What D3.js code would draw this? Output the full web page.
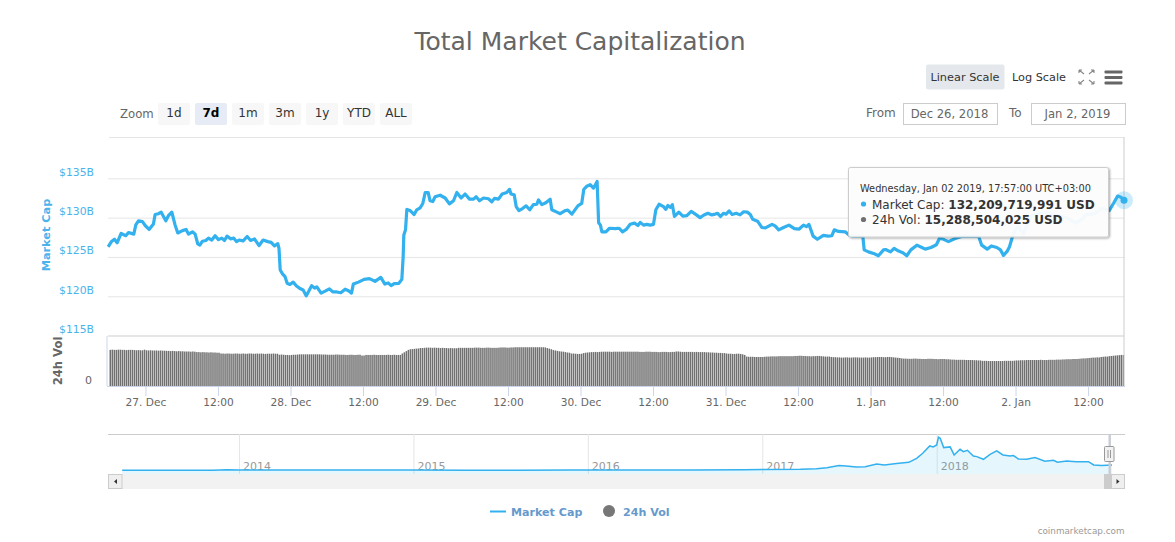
<!DOCTYPE html>
<html>
<head>
<meta charset="utf-8">
<title>Total Market Capitalization</title>
<script src="https://cdn.jsdelivr.net/npm/d3@7"></script>
<style>
  html, body { margin: 0; padding: 0; background: #fff; }
  svg { display: block; font-family: "DejaVu Sans", sans-serif; }
  .domain { display: none; }
</style>
</head>
<body>
<svg id="chart" width="1175" height="542"></svg>
<script>
// hours after 27 Dec 2018 00:00 UTC+3, and market cap in $B
var capHours = [-6.2,-6,-5.57,-5.13,-4.69,-4.03,-3.26,-2.81,-1.93,-1.6,-1.16,-0.5,-0.05,0.6,1.32,1.6,2.15,2.6,3.37,3.8,4.36,4.9,5.35,6.12,6.73,7.12,7.78,8.22,8.66,9,9.43,10,10.43,10.98,11.53,12.08,12.63,13.08,13.5,14.07,14.6,15.06,15.5,16.17,16.83,17.4,18.04,18.8,19.47,20.25,20.8,21.35,21.9,22.1,22.3,22.68,23.1,23.45,23.9,24.44,25,25.66,26.1,26.6,27,27.5,28,
  28.36,29.07,29.74,30.45,31,31.66,32.33,33.05,33.6,34.1,34.4,35.25,36.19,37.07,38,38.95,39.62,40.17,40.66,41.16,41.94,42.43,42.65,42.76,43.04,43.26,43.8,44.47,44.9,45.46,45.9,46.3,46.78,47.1,47.55,47.94,48.77,49.6,50.3,50.98,51.53,52.25,52.9,53.63,54.3,54.73,55.28,55.95,56.77,57.32,57.76,58.42,59.03,59.8,60.25,60.5,61.03,61.36,61.8,
  62.4,63,63.6,64.2,64.77,65.05,65.6,66.26,66.98,67.25,68.08,68.64,69.46,69.9,70.57,71.56,72.2,72.55,73.05,73.6,74.15,74.75,75,75.3,75.53,76.2,76.8,77.75,78.4,78.96,79.56,80.22,80.94,81.5,81.88,82.43,82.98,83.53,84.08,84.47,85,85.74,86.13,86.46,86.9,87.2,87.55,88.27,88.94,89.6,90.32,91,91.8,92.36,93.08,93.74,94.3,94.7,95.17,95.66,
  96.1,96.6,97.1,97.77,98.4,99,99.6,100.1,100.5,101.3,102,102.6,103.7,104.2,104.8,105.6,106.5,107.4,108.2,108.9,109.4,109.8,110.5,111.2,112.2,113,113.6,114,114.7,115.8,116.5,117.2,118,118.73,118.95,119.66,120.5,121.3,122.15,122.5,123.3,123.9,124.65,125.35,126,126.67,127.67,128.5,129.05,
  130,130.9,131.4,131.9,132.9,134,135.1,136.2,137.9,138.4,139.3,140,140.9,141.5,142,142.6,143,143.5,144.1,144.45,145.3,146.5,147.25,148.9,150.3,151.7,152.8,154,155,155.6,157.2,158.3,159.5,160.2,160.9,161.45,161.95];
var capValues = [126.3,126.5,127,127.25,126.8,128,127.7,128.1,127.9,129.07,129.6,129.5,129,128.5,129.2,130.4,130.5,130.7,129.6,130.25,130.7,129.07,128.05,128.35,128.5,127.9,128.2,127.9,126.65,126.5,127,127.1,127.4,127.15,127.7,127.2,127.4,127.1,127.65,127.3,127.4,126.95,127.15,127.05,127.6,127.1,127.3,126.45,127.15,126.95,126.85,126.4,126.7,126.1,123.35,122.85,122.5,121.65,121.5,121.8,121.3,120.95,120.8,120.05,120.6,121.35,121.05,
  121.2,120.4,120.65,120.95,120.55,120.55,120.45,120.9,120.7,120.4,121.55,121.8,122.15,122.25,121.9,122.4,121.55,121.7,121.35,121.6,121.65,122.15,125.05,127.8,128.45,131.05,130.9,130.4,131,131.25,131.8,133.2,133.2,132.15,132.05,132.65,132.85,132.5,131.75,132.15,133.2,132.5,133,132.35,132.35,132.65,132.15,132.5,132.4,132,132.45,132.35,133,133.2,133.6,133,132.9,131.4,130.9,
  131.15,131.5,131,131.65,131.7,132.25,131.65,131.9,132.35,131,130.7,130.5,130.9,130.95,130.45,131.5,131.8,133.6,134,134.2,133.75,134.6,129.35,129.05,128.2,128.2,128.65,128.6,128.65,128.2,128.5,129.15,129.3,129,129.4,129.05,129.15,129.05,129.15,131,131.7,131.4,131.05,131.55,131.3,131.65,130.15,130.7,130.2,130.25,130.8,130.45,130,130.3,130.55,130.35,130.45,130.55,130.15,130.55,
  130.45,130.85,130.4,130.55,130.35,130.75,130.7,130.4,129.8,129.55,128.75,128.7,129.15,128.95,128.45,128.75,129.05,128.6,128.55,129.05,128.85,129.15,127.65,127.25,127.75,127.65,127.7,128.45,128.25,128.2,127.75,127.65,127.65,127.6,125.9,125.65,125.45,125.15,125.9,125.95,125.65,126.1,125.75,125.55,125.15,125.9,126.5,126.2,126,
  126.2,126.55,127.35,127.3,126.95,127.35,127.6,127.65,127.6,126.5,126,126.4,126.2,125.9,125.2,125.7,126.3,127.6,128.65,128.85,127.9,130.15,130.4,130.65,130.35,130.15,129.85,129.3,129.8,130.35,130.55,131.2,130.9,131.8,132.75,132.6,132.21];

// one bar every 20 minutes up to the last hour mark, 24h volume in $B
var volValues = [17.8,17.9,17.8,17.8,17.9,17.9,17.8,17.8,17.7,17.8,17.8,17.8,17.7,
  17.6,17.7,17.6,17.6,17.9,17.6,17.5,17.6,17.5,17.5,17.5,17.4,17.5,17.4,17.4,
  17.3,17.3,17.2,17.3,17.2,17.1,17.2,17.1,17.1,17,17,17,16.9,17,16.9,
  16.7,16.7,16.6,16.7,16.6,16.6,16.5,16.6,16.5,16.5,16.4,16.4,
  16,16,15.9,16,16,15.9,15.9,16,16,15.9,15.9,16,15.9,15.9,16,16,15.9,15.9,16,15.9,16,15.9,15.8,15.9,15.9,15.9,16,15.9,15.9,
  15.4,15.5,15.4,15.3,15.3,15.2,15.3,15.4,15.4,15.5,15.6,15.6,15.6,15.6,15.6,15.6,15.6,15.6,15.6,15.6,15.6,15.5,15.5,15.5,15.4,15.4,15.4,15.4,15.5,15.5,
  15.4,15.4,15.4,15.3,15.3,15.4,15.4,15.3,15.3,15.4,15.4,15,15,15.3,15.3,15.3,15.3,15.4,15.3,15.3,15.3,15.3,15.3,15.3,15.4,15.3,15.3,15.4,15.3,15.3,15.3,
  16,16.6,17.2,17.8,
  18.1,18.2,18.3,18.4,18.5,
  18.7,18.7,18.8,18.9,18.9,18.9,18.8,18.9,18.8,18.8,18.7,18.8,18.7,18.7,18.6,18.7,18.6,18.6,18.6,18.8,18.8,18.8,18.8,18.8,18.8,18.8,18.8,18.9,18.9,18.9,18.8,18.8,18.8,18.9,18.9,18.8,18.8,18.8,18.8,18.9,
  19,19,19,18.9,18.9,19,19,19.1,19.1,19.1,19.1,19.1,19.1,19.1,19.1,19.1,19.1,19.1,19.1,19.1,19.1,19.1,
  19,18.7,18.4,18.1,
  17.7,17.5,17.3,17.1,17,16.9,16.7,16.5,16.4,
  16,16,15.9,15.8,15.8,15.9,
  16.2,16.4,16.5,16.6,16.7,16.7,16.8,16.7,16.8,
  16.9,16.9,16.9,16.9,16.9,16.8,16.9,16.9,16.9,16.9,16.9,16.9,16.9,16.9,16.9,16.9,16.9,16.9,16.9,16.8,16.8,16.8,16.9,16.9,16.9,16.8,16.8,16.8,16.7,16.7,16.8,16.8,16.8,16.7,16.7,16.8,16.8,17,17,16.9,16.8,16.8,16.8,16.8,16.8,16.8,16.7,16.8,16.7,16.7,
  16.7,16.7,16.6,16.6,16.5,16.5,16.4,16.4,16.3,16.3,16.2,16.2,
  16,15.9,15.9,15.8,15.8,15.9,15.9,15.8,15.6,15.3,
  14.5,14.4,14.4,14.4,14.3,14.3,14.3,14.3,14.3,14.4,
  14.5,14.5,14.6,14.6,14.6,14.6,14.7,14.7,14.7,14.7,14.7,14.7,
  14.7,14.7,14.8,14.8,14.9,14.9,14.8,14.8,14.7,14.7,14.6,14.7,14.7,14.8,14.8,14.7,14.6,14.5,14.5,14.5,
  14.3,14.2,14.2,14.1,14.1,14,14,14.1,14.1,14,14,14.1,14.1,14.1,14,14,14,14.1,14,14,
  14.1,14.2,14.2,14.3,14.3,14.3,14.2,14.2,14.3,14.3,14.2,14.1,14,13.9,13.8,
  13.6,13.5,13.5,13.4,13.4,13.4,13.5,13.5,13.4,13.4,13.3,13.3,13.3,13.4,13.4,13.4,13.3,13.3,13.2,13.3,13.3,13.3,13.2,13.2,13.1,
  13,13,12.9,12.9,12.9,12.9,12.9,12.8,12.8,12.8,12.8,12.7,12.7,12.6,12.6,
  12.4,12.4,12.4,12.3,12.3,12.3,12.3,12.3,12.3,12.3,12.3,12.4,12.4,12.4,12.4,12.4,12.5,
  12.6,12.6,12.7,12.7,12.7,12.8,12.8,12.8,12.8,12.8,12.8,12.8,12.9,12.8,12.8,12.8,12.9,12.9,12.9,12.9,13,13,
  13,13.1,13.1,13.2,13.2,13.2,13.3,13.3,13.3,13.4,
  13.5,13.6,13.6,13.7,13.8,13.9,14,14,14.1,14.1,
  14.3,14.4,14.5,14.5,14.7,14.8,14.9,15,15.1,15.2,15.3,15.29];

// navigator: decimal year and market cap in $B
var navYears = [2013.33,2013.6,2013.85,2013.93,2014,2014.2,2014.5,2014.8,2015,2015.3,2015.6,2015.9,2016,2016.3,2016.6,2016.9,2017,2017.22,2017.31,2017.37,2017.44,2017.48,2017.54,2017.59,2017.656,2017.7,2017.77,2017.84,2017.885,2017.92,2017.96,2017.98,2018,2018.01,2018.02,2018.04,2018.077,2018.1,2018.134,2018.153,2018.176,2018.21,2018.23,2018.268,2018.306,2018.344,2018.38,2018.42,2018.44,2018.468,2018.516,2018.564,2018.62,2018.67,2018.692,2018.745,2018.8,2018.87,2018.9,2018.946,2019.005];
var navCaps = [1.5,1.5,4,14,10,9,8,5,5,4,4,6,7,7,10,12,18,26,42,67,118,109,84,92,160,134,168,200,302,428,613,588,638,832,806,571,588,386,529,470,504,361,344,277,403,487,386,361,370,286,277,319,227,252,202,235,218,218,134,118,132];
var navTicks = [2014,2015,2016,2017,2018];

var capTicks = [115,120,125,130,135];
var volTicks = [0];
var timeTicks = [0,12,24,36,48,60,72,84,96,108,120,132,144,156];
var dayLabels = ["27. Dec","28. Dec","29. Dec","30. Dec","31. Dec","1. Jan","2. Jan"];
var zoomLabels = ["1d","7d","1m","3m","1y","YTD","ALL"];
var legendLabels = ["Market Cap","24h Vol"];

var blue = "#33b1ee", gray = "#707070", grid = "#e6e6e6", axisBlue = "#ccd6eb", soft = "#666";
var hourMs = 3600000, origin = Date.UTC(2018, 11, 27);
function toDate(h){ return new Date(origin + h * hourMs) }

var svg = d3.select("#chart");

var x = d3.scaleUtc()
  .domain([toDate(-6.2), toDate(161.95)])
  .range([108, 1124]);
var y = d3.scaleLinear().domain([115, 140]).range([335.6, 139]);
var yVol = d3.scaleLinear().domain([0, 20]).range([386, 345.4]);
var xNav = d3.scaleLinear().domain([2014, 2018]).range([239, 936.7]);
var yNav = d3.scaleLinear().domain([0, 830]).range([470.3, 437.3]);

// title
svg.append("text")
  .text("Total Market Capitalization")
  .attr("x", 580).attr("y", 50)
  .attr("text-anchor", "middle")
  .style("font-size", "25px").style("fill", "#666");

// range selector buttons
svg.append("text").text("Zoom").attr("x", 120).attr("y", 118)
  .style("font-size", "11.7px").style("fill", soft);

var btn = svg.selectAll("g.zoom-btn")
  .data(zoomLabels)
  .enter().append("g")
  .attr("class", "zoom-btn")
  .attr("transform", function(d, i){ return "translate(" + (158 + i * 37) + ",103)" });
btn.append("rect")
  .attr("width", 32).attr("height", 22).attr("rx", 2)
  .style("fill", function(d){ return d == "7d" ? "#e6ebf5" : "#f7f7f7" });
btn.append("text")
  .text(function(d){ return d })
  .attr("x", 16).attr("y", 14)
  .attr("text-anchor", "middle")
  .style("font-size", "12px")
  .style("font-weight", function(d){ return d == "7d" ? "bold" : "normal" })
  .style("fill", function(d){ return d == "7d" ? "#000" : "#333" });

// scale buttons and icons
svg.append("rect").attr("x", 926).attr("y", 64.5).attr("width", 78.5).attr("height", 25).attr("rx", 2).style("fill", "#e4e8ec");
svg.append("text").text("Linear Scale").attr("x", 965).attr("y", 81).attr("text-anchor", "middle").style("font-size", "11.3px").style("fill", "#333");
svg.append("text").text("Log Scale").attr("x", 1039).attr("y", 81).attr("text-anchor", "middle").style("font-size", "11.3px").style("fill", "#333");

var corners = [[1079,70,1,1],[1094,70,-1,1],[1079,84,1,-1],[1094,84,-1,-1]];
svg.selectAll("path.fs")
  .data(corners)
  .enter().append("path")
  .attr("class", "fs")
  .attr("d", function(d){
    return "M" + d[0] + "," + d[1] + "L" + (d[0] + 5 * d[2]) + "," + (d[1] + 4 * d[3]) +
      "M" + d[0] + "," + d[1] + "h" + (3 * d[2]) + "M" + d[0] + "," + d[1] + "v" + (3 * d[3]);
  })
  .style("stroke", "#888").style("stroke-width", 1.1).style("fill", "none");

svg.selectAll("rect.burger")
  .data([70.5, 76, 81.5])
  .enter().append("rect")
  .attr("class", "burger")
  .attr("x", 1104.5).attr("y", function(d){ return d })
  .attr("width", 18).attr("height", 3).attr("rx", 1)
  .style("fill", "#666");

// date inputs
var dateInputs = [
  {label: "From", lx: 866, bx: 903.5, text: "Dec 26, 2018"},
  {label: "To", lx: 1009, bx: 1031.5, text: "Jan 2, 2019"}
];
var inp = svg.selectAll("g.date-input").data(dateInputs).enter().append("g").attr("class", "date-input");
inp.append("text").text(function(d){ return d.label })
  .attr("x", function(d){ return d.lx }).attr("y", 117)
  .style("font-size", "12px").style("fill", soft);
inp.append("rect")
  .attr("x", function(d){ return d.bx }).attr("y", 103.5)
  .attr("width", 94).attr("height", 21)
  .style("fill", "#fff").style("stroke", "#ccc");
inp.append("text").text(function(d){ return d.text })
  .attr("x", function(d){ return d.bx + 46 }).attr("y", 118)
  .attr("text-anchor", "middle")
  .style("font-size", "11.6px").style("fill", soft);

// top border of the plot and the pane separator
svg.append("line").attr("x1", 109).attr("x2", 1124).attr("y1", 137.5).attr("y2", 137.5).style("stroke", grid);
svg.append("line").attr("x1", 108).attr("x2", 1124).attr("y1", 336).attr("y2", 336).style("stroke", grid).style("stroke-width", 2);

// market cap axis
var capAxis = svg.append("g")
  .attr("transform", "translate(108,0)")
  .call(d3.axisLeft(y)
    .tickValues(capTicks)
    .tickSize(-1016)
    .tickPadding(14)
    .tickFormat(function(d){ return "$" + d + "B" }));
capAxis.selectAll("line").style("stroke", function(d){ return d == 115 ? "none" : grid });
capAxis.selectAll("text").attr("dy", "-0.28em").style("font-size", "10.8px").style("fill", "#4bb3ec").style("font-family", "DejaVu Sans");

svg.append("text").text("Market Cap")
  .attr("transform", "translate(50,235) rotate(-90)")
  .attr("text-anchor", "middle")
  .style("font-size", "11.3px").style("font-weight", "bold").style("fill", "#4bb3ec");

// volume axis
var volAxis = svg.append("g")
  .attr("transform", "translate(108,0)")
  .call(d3.axisLeft(yVol)
    .tickValues(volTicks)
    .tickSize(0)
    .tickPadding(16)
    .tickFormat(function(d){ return d }));
volAxis.selectAll("text").attr("dy", "-0.2em").style("font-size", "11px").style("fill", soft).style("font-family", "DejaVu Sans");

svg.append("text").text("24h Vol")
  .attr("transform", "translate(62,361) rotate(-90)")
  .attr("text-anchor", "middle")
  .style("font-size", "11.6px").style("font-weight", "bold").style("fill", soft);

svg.append("line").attr("x1", 107).attr("x2", 107).attr("y1", 336).attr("y2", 386).style("stroke", axisBlue);

// volume bars
svg.append("g").selectAll("rect")
  .data(volValues)
  .enter().append("rect")
  .attr("x", function(d, i){ return x(toDate(161.95 - (volValues.length - 1 - i) / 3)) - 1.4 })
  .attr("y", function(d){ return yVol(d) })
  .attr("width", 1.5)
  .attr("height", function(d){ return yVol(0) - yVol(d) })
  .style("fill", gray);

// time axis
var timeAxis = svg.append("g")
  .attr("transform", "translate(0,386)")
  .call(d3.axisBottom(x)
    .tickValues(timeTicks.map(toDate))
    .tickSize(10)
    .tickPadding(2)
    .tickFormat(function(d, i){ return i % 2 == 0 ? dayLabels[i / 2] : "12:00" }));
timeAxis.selectAll("line").style("stroke", axisBlue);
timeAxis.selectAll("text").style("font-size", "10.6px").style("fill", soft).style("font-family", "DejaVu Sans");
svg.append("line").attr("x1", 107).attr("x2", 1125).attr("y1", 386.5).attr("y2", 386.5).style("stroke", axisBlue);

// market cap line
var line = d3.line()
  .x(function(d, i){ return x(toDate(capHours[i])) })
  .y(function(d){ return y(d) });

svg.append("path")
  .datum(capValues)
  .attr("d", line)
  .style("fill", "none").style("stroke", blue).style("stroke-width", 3.2)
  .style("stroke-linejoin", "round");

// hover crosshair and point
var lastX = x(toDate(161.95)), lastY = y(capValues[capValues.length - 1]);
svg.append("line").attr("x1", lastX).attr("x2", lastX).attr("y1", 137).attr("y2", 386).style("stroke", "#ccc");
svg.append("circle").attr("cx", lastX).attr("cy", lastY).attr("r", 9).style("fill", blue).style("opacity", 0.25);
svg.append("circle").attr("cx", lastX).attr("cy", lastY).attr("r", 3.5).style("fill", blue);

// tooltip
var defs = svg.append("defs");
var shadow = defs.append("filter").attr("id", "tipShadow").attr("x", "-5%").attr("y", "-5%").attr("width", "110%").attr("height", "115%");
shadow.append("feDropShadow").attr("dx", 1).attr("dy", 1).attr("stdDeviation", 1.2).attr("flood-color", "#000").attr("flood-opacity", 0.35);

svg.append("rect")
  .attr("x", 848.5).attr("y", 167.5).attr("width", 260).attr("height", 69.5).attr("rx", 2)
  .style("fill", "#fff").style("fill-opacity", 0.93)
  .style("stroke", "#ccc")
  .attr("filter", "url(#tipShadow)");
svg.append("text").text("Wednesday, Jan 02 2019, 17:57:00 UTC+03:00")
  .attr("x", 860).attr("y", 191.5)
  .style("font-size", "9.8px").style("fill", "#333");

var tipRows = [
  {name: "Market Cap: ", value: "132,209,719,991 USD", color: blue, y: 208.5},
  {name: "24h Vol: ", value: "15,288,504,025 USD", color: gray, y: 224}
];
svg.selectAll("circle.tip").data(tipRows).enter().append("circle")
  .attr("class", "tip")
  .attr("cx", 863.5).attr("cy", function(d){ return d.y - 4.5 }).attr("r", 2.6)
  .style("fill", function(d){ return d.color });
var tipText = svg.selectAll("text.tip").data(tipRows).enter().append("text")
  .attr("class", "tip")
  .attr("x", 872).attr("y", function(d){ return d.y })
  .style("font-size", "12px").style("fill", "#333");
tipText.append("tspan").text(function(d){ return d.name });
tipText.append("tspan").text(function(d){ return d.value }).style("font-weight", "bold");

// navigator
svg.append("line").attr("x1", 108).attr("x2", 1125).attr("y1", 434.5).attr("y2", 434.5).style("stroke", "#ccc");

var navG = svg.append("g").attr("transform", "translate(0,474)")
  .call(d3.axisTop(xNav)
    .tickValues(navTicks)
    .tickSize(40)
    .tickFormat(function(d){ return "" }));
navG.selectAll("line").style("stroke", grid);

svg.selectAll("text.nav-year").data(navTicks).enter().append("text")
  .attr("class", "nav-year")
  .text(function(d){ return d })
  .attr("x", function(d){ return xNav(d) + 4 })
  .attr("y", 470)
  .style("font-size", "11px").style("fill", "#999");

var navArea = d3.area()
  .x(function(d, i){ return xNav(navYears[i]) })
  .y0(474)
  .y1(function(d){ return yNav(d) });
var navLine = d3.line()
  .x(function(d, i){ return xNav(navYears[i]) })
  .y(function(d){ return yNav(d) });
svg.append("path").datum(navCaps).attr("d", navArea).style("fill", blue).style("fill-opacity", 0.12);
svg.append("path").datum(navCaps).attr("d", navLine).style("fill", "none").style("stroke", blue).style("stroke-width", 1.5);

// scrollbar
svg.append("rect").attr("x", 108).attr("y", 474).attr("width", 1017).attr("height", 15).style("fill", "#f2f2f2");
svg.append("rect").attr("x", 108.5).attr("y", 474.5).attr("width", 13.5).attr("height", 14).style("fill", "#efefef").style("stroke", "#ccc");
svg.append("rect").attr("x", 1104).attr("y", 474).attr("width", 7).attr("height", 15).style("fill", "#ccc");
svg.append("rect").attr("x", 1111.5).attr("y", 474.5).attr("width", 13).attr("height", 14).style("fill", "#efefef").style("stroke", "#ccc");
svg.append("path").attr("d", "M117,479 l-3,2.5 l3,2.5 Z").style("fill", "#333");
svg.append("path").attr("d", "M1116.5,479 l3,2.5 l-3,2.5 Z").style("fill", "#333");

// navigator handle
svg.append("rect").attr("x", 1108.5).attr("y", 434).attr("width", 2.4).attr("height", 40).style("fill", "#c8ccd3");
svg.append("rect").attr("x", 1104.5).attr("y", 446.5).attr("width", 9.5).attr("height", 15).attr("rx", 1).style("fill", "#f2f2f2").style("stroke", "#999");
svg.selectAll("line.grip").data([1108, 1110.5]).enter().append("line")
  .attr("class", "grip")
  .attr("x1", function(d){ return d }).attr("x2", function(d){ return d })
  .attr("y1", 450).attr("y2", 458)
  .style("stroke", "#999");

// legend
svg.append("line").attr("x1", 490).attr("x2", 506).attr("y1", 511.5).attr("y2", 511.5).style("stroke", blue).style("stroke-width", 2);
svg.append("circle").attr("cx", 609).attr("cy", 511).attr("r", 6).style("fill", "#777");
svg.selectAll("text.legend").data(legendLabels).enter().append("text")
  .attr("class", "legend")
  .text(function(d){ return d })
  .attr("x", function(d, i){ return i == 0 ? 511 : 623 })
  .attr("y", 516)
  .style("font-size", "11.1px").style("font-weight", "bold").style("fill", "#6699cc");

svg.append("text").text("coinmarketcap.com")
  .attr("x", 1124.5).attr("y", 534)
  .attr("text-anchor", "end")
  .style("font-size", "8.8px").style("fill", "#999");
</script>
</body>
</html>
